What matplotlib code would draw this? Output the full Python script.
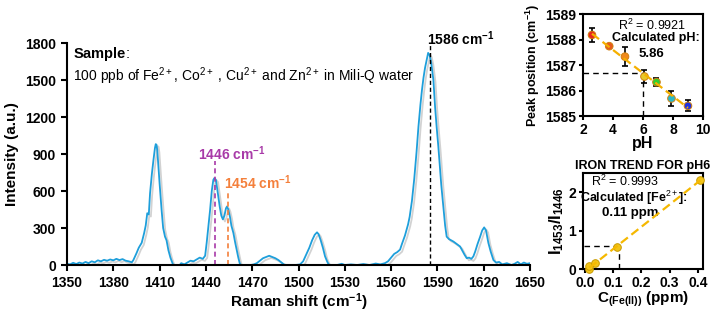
import numpy as np
import matplotlib
matplotlib.use('Agg')
import matplotlib.pyplot as plt
import matplotlib.patheffects as pe

plt.rcParams['font.family'] = ['Liberation Sans', 'DejaVu Sans']
plt.rcParams['mathtext.fontset'] = 'custom'
plt.rcParams['mathtext.rm'] = 'Liberation Sans'
plt.rcParams['mathtext.bf'] = 'Liberation Sans:bold'
plt.rcParams['mathtext.it'] = 'Liberation Sans:italic'

# Raman spectrum
shift = [1350, 1352, 1354, 1356, 1358, 1360, 1362, 1364, 1366, 1368, 1370, 1372, 1374, 1376,
         1378, 1380, 1382, 1384, 1386, 1388, 1390, 1392, 1393, 1395, 1396.5, 1398.4, 1400, 1401,
         1402, 1403, 1403.8, 1405, 1406, 1407, 1407.5, 1408, 1408.5, 1409.2, 1410, 1411.3, 1412.3,
         1413.5, 1414.5, 1415.7, 1417, 1418.5, 1419, 1421, 1423, 1424, 1426, 1428, 1430, 1432,
         1434, 1436, 1438, 1439.5, 1440.5, 1441.5, 1442.7, 1443.8, 1444.8, 1445.5, 1446.5, 1447.3,
         1448, 1449, 1450, 1451, 1452, 1453, 1453.7, 1454.5, 1455.6, 1456.5, 1457.8, 1459, 1460,
         1461, 1462, 1463, 1466, 1469, 1471, 1473, 1475, 1477, 1479, 1481, 1483, 1485, 1487, 1489,
         1490.5, 1492, 1495, 1498, 1501, 1503, 1505, 1507, 1508.8, 1510.5, 1512, 1513, 1514.4,
         1515.8, 1517.2, 1518.5, 1519.5, 1521, 1525, 1528, 1530, 1534, 1538, 1542, 1546, 1550,
         1553, 1556, 1558, 1560, 1562, 1564, 1565.8, 1567, 1569, 1571, 1572, 1573.5, 1575, 1576.5,
         1577.7, 1579, 1580, 1581, 1582, 1583, 1584, 1585, 1586, 1587.4, 1588.5, 1589.5, 1590.6,
         1591.5, 1592.5, 1593.9, 1595, 1596, 1597.5, 1599, 1600.4, 1602, 1603.5, 1604.7, 1606,
         1607.5, 1609, 1610.5, 1612, 1613.3, 1614.5, 1616, 1617.7, 1619, 1620.3, 1621.5, 1623,
         1624.5, 1626.3, 1628, 1630, 1632, 1635, 1638, 1640, 1642, 1644, 1646, 1648, 1650]
intensity = [10, 5, 18, 8, 20, 12, 25, 15, 30, 22, 38, 30, 42, 35,
             45, 38, 50, 40, 48, 35, 30, 22, 40, 95, 140, 180, 260, 320,
             420, 410, 580, 740, 850, 950, 980, 975, 930, 800, 660, 445, 300,
             230, 200, 120, 60, 10, 0, 0, 0, 15, 5, 20, 35, 30,
             45, 60, 50, 75, 180, 300, 445, 600, 690, 705, 690, 620,
             555, 470, 400, 370, 400, 460, 475, 450, 390, 320, 260, 180, 120,
             60, 10, 0, 0, 0, 5, 15, 35, 55, 65, 75, 65, 55, 40, 20,
             5, 0, 0, 0, 5, 30, 85, 140, 200, 245, 265, 250, 200,
             140, 70, 30, 5, 0, 0, 10, 0, 5, 0, 8, 0, 12,
             5, 15, 30, 60, 90, 105, 125, 170, 240, 330, 390, 520, 700, 920,
             1120, 1300, 1420, 1520, 1600, 1660, 1720, 1700, 1640, 1500, 1280, 1120, 960,
             810, 650, 470, 320, 230, 210, 200, 190, 175, 160, 150, 120,
             85, 55, 60, 50, 70, 110, 170, 230, 280, 305, 280, 180,
             110, 40, 20, 25, 5, 15, 0, 10, 25, 5, 20, 10, 15]

# pH calibration
ph = [2.6, 3.75, 4.8, 6.1, 6.9, 7.9, 9.0]
peak_pos = [1588.18, 1587.74, 1587.33, 1586.55, 1586.33, 1585.69, 1585.40]
peak_err = [0.29, 0.05, 0.36, 0.26, 0.17, 0.30, 0.22]
ph_colors = ['#E8281E', '#E85A1E', '#F08A1E', '#E8C828', '#30D030', '#28B8C8', '#2030E0']

# iron calibration
c_fe = [0.016, 0.016, 0.036, 0.112, 0.408]
ratio = [0.0, 0.08, 0.15, 0.57, 2.31]

fig = plt.figure(figsize=(7.12, 3.12), dpi=100)

# ---- main spectrum
ax = fig.add_axes([0.0941, 0.1506, 0.6503, 0.7115])
ax.plot(shift, intensity, color='#1E9FDB', lw=1.3,
        path_effects=[pe.SimpleLineShadow(offset=(1.5, -1.5), shadow_color='gray', alpha=0.35),
                      pe.Normal()])
ax.set_xlim(1350, 1650)
ax.set_ylim(0, 1800)
ax.set_xticks(np.arange(1350, 1651, 30))
ax.set_yticks(np.arange(0, 1801, 300))
for s in ['top', 'right']:
    ax.spines[s].set_visible(False)
for s in ['left', 'bottom']:
    ax.spines[s].set_linewidth(1.5)
ax.tick_params(width=1.5, length=4.5, labelsize=10)
for lab in ax.get_xticklabels() + ax.get_yticklabels():
    lab.set_fontweight('bold')
ax.set_xlabel('Raman shift (cm$^{\\mathbf{-1}}$)', fontsize=11, fontweight='bold', labelpad=1)
ax.set_ylabel('Intensity (a.u.)', fontsize=11, fontweight='bold', labelpad=4)

ax.vlines(1446, 0, 840, colors='#A83AA8', linestyles=(0, (3, 2)), lw=1.2)
ax.vlines(1454, 0, 600, colors='#F4803C', linestyles=(0, (3, 2)), lw=1.2)
ax.vlines(1585, 0, 1800, colors='black', linestyles=(0, (3, 2)), lw=1.0)
ax.text(1435, 905, r'$\mathbf{1446\ cm^{-1}}$', color='#A83AA8', fontsize=10, ha='left', va='center')
ax.text(1452, 670, r'$\mathbf{1454\ cm^{-1}}$', color='#F4803C', fontsize=10, ha='left', va='center')
ax.text(1583, 1835, r'$\mathbf{1586\ cm^{-1}}$', color='black', fontsize=10, ha='left', va='center')
ax.text(1354, 1710, r'$\mathbf{Sample}$:', fontsize=10.5, va='center')
ax.text(1354, 1530, '100 ppb of Fe$^{2+}$, Co$^{2+}$ , Cu$^{2+}$ and Zn$^{2+}$ in Mili-Q water',
        fontsize=10, va='center')

# ---- pH inset
a1 = fig.add_axes([0.8188, 0.628, 0.1685, 0.327])
fit = np.polyfit(ph, peak_pos, 1)
a1.plot([2, 6], [1586.7, 1586.7], color='black', ls=(0, (4, 3)), lw=1.0)
a1.plot([6, 6], [1585, 1586.7], color='black', ls=(0, (4, 3)), lw=1.0)
a1.errorbar(ph, peak_pos, yerr=peak_err, fmt='none', ecolor='black', elinewidth=1.2,
            capsize=2, capthick=1.2, zorder=2)
a1.scatter(ph, peak_pos, s=30, c=ph_colors, edgecolors='#D08010', linewidths=0.7, zorder=3)
xx = np.array([ph[0], ph[-1]])
a1.plot(xx, np.polyval(fit, xx), color='#F5B000', ls=(0, (4, 2)), lw=1.6, zorder=4)
a1.set_xlim(2, 10)
a1.set_ylim(1585, 1589)
a1.set_xticks([2, 4, 6, 8, 10])
a1.set_yticks([1585, 1586, 1587, 1588, 1589])
a1.tick_params(width=1.5, length=3, labelsize=10, pad=2)
for lab in a1.get_xticklabels() + a1.get_yticklabels():
    lab.set_fontweight('bold')
for s in a1.spines.values():
    s.set_linewidth(1.5)
a1.set_xlabel('pH', fontsize=11.5, fontweight='bold', labelpad=-1)
a1.set_ylabel('Peak position (cm$^{\\mathbf{-1}}$)', fontsize=9, fontweight='bold', labelpad=2)
a1.text(6.6, 1588.55, r'R$^2$ = 0.9921', fontsize=9, ha='center', va='center')
a1.text(6.85, 1588.05, 'Calculated pH:', fontsize=9, fontweight='bold', ha='center', va='center',
        clip_on=False)
a1.text(6.55, 1587.45, '5.86', fontsize=9.5, fontweight='bold', ha='center', va='center')

# ---- iron inset
a2 = fig.add_axes([0.8188, 0.1378, 0.1685, 0.3077])
fit2 = np.polyfit(c_fe, ratio, 1)
a2.plot([-0.005, 0.12], [0.6, 0.6], color='black', ls=(0, (4, 3)), lw=1.0)
a2.plot([0.12, 0.12], [0, 0.6], color='black', ls=(0, (4, 3)), lw=1.0)
a2.scatter(c_fe, ratio, s=30, c='#F2C418', edgecolors='#C89A00', linewidths=0.7, zorder=3,
           clip_on=False)
xx2 = np.array([c_fe[0], c_fe[-1]])
a2.plot(xx2, np.polyval(fit2, xx2), color='#F5B800', ls=(0, (4, 2)), lw=1.6, zorder=4)
a2.set_xlim(-0.007, 0.418)
a2.set_ylim(0, 2.5)
a2.set_xticks([0.0, 0.1, 0.2, 0.3, 0.4])
a2.set_yticks([0, 1, 2])
a2.tick_params(width=1.5, length=3, labelsize=10, pad=2)
for lab in a2.get_xticklabels() + a2.get_yticklabels():
    lab.set_fontweight('bold')
for s in a2.spines.values():
    s.set_linewidth(1.5)
a2.set_title('IRON TREND FOR pH6', fontsize=9, fontweight='bold', pad=3)
a2.set_xlabel(r'$\mathbf{C_{(Fe(II))}}$ (ppm)', fontsize=11, fontweight='bold', labelpad=0)
a2.set_ylabel(r'$\mathbf{I_{1453}/I_{1446}}$', fontsize=12, labelpad=2)
a2.text(0.02, 2.28, r'R$^2$ = 0.9993', fontsize=9, ha='left', va='center')
a2.text(0.175, 1.85, 'Calculated [Fe$^{2+}$]:', fontsize=9, fontweight='bold', ha='center', va='center')
a2.text(0.16, 1.45, '0.11 ppm', fontsize=9.5, fontweight='bold', ha='center', va='center')

fig.savefig('out.png', dpi=100)
